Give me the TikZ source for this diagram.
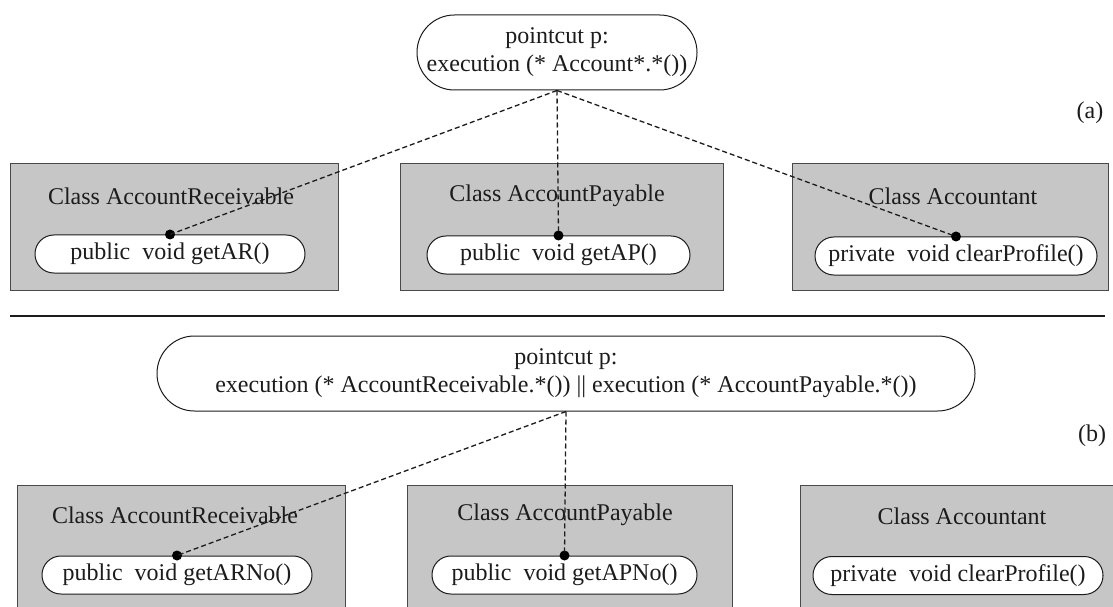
\documentclass[tikz,border=0pt]{standalone}
\usepackage{fontspec}
\setmainfont{Liberation Serif}
\definecolor{boxgray}{RGB}{198,198,198}
\definecolor{inkgray}{RGB}{28,28,28}
\begin{document}
\begin{tikzpicture}[x=1pt,y=1pt,
  font=\fontsize{24}{28}\selectfont,
  every node/.style={text=inkgray},
  classbox/.style n args={2}{draw=inkgray!80, fill=boxgray, line width=1pt,
    minimum width=#1, minimum height=#2, inner sep=0pt},
  methodpill/.style={draw=inkgray, fill=white, line width=1pt,
    rounded corners=18.9pt, minimum width=#1, minimum height=38pt, inner sep=0pt},
  cutpill/.style={draw=inkgray, fill=white, line width=1pt,
    rounded corners=37.4pt, minimum width=#1, minimum height=75pt,
    inner sep=0pt, align=center},
  joinpt/.style={circle, fill=black, inner sep=0pt, minimum size=10pt},
  weave/.style={draw=inkgray, line width=1.3pt, dash pattern=on 5pt off 3pt},
]
\clip (0,0) rectangle (1113,606);
\fill[white] (0,0) rectangle (1113,606);

% ---------- (a) pointcut over all Account* classes ----------
\node[cutpill=280pt] (pa) at (557,553.5) {pointcut p:\\execution (* Account*.*())};
\node (la) at (1090,493) {(a)};

\node[classbox={328pt}{126pt}] (ca1) at (174,379) {};
\node[classbox={323pt}{126pt}] (ca2) at (561.5,379) {};
\node[classbox={316pt}{126pt}] (ca3) at (950,379) {};

\node (ta1) at (171,410) {Class AccountReceivable};
\node (ta2) at (557,410) {Class AccountPayable};
\node (ta3) at (953,410) {Class Accountant};

\node[methodpill=270pt] (ma1) at (170,352) {public\enspace void getAR()};
\node[methodpill=263pt] (ma2) at (558.5,351) {public\enspace void getAP()};
\node[methodpill=282pt] (ma3) at (956,350) {private\enspace void clearProfile()};

\node[joinpt] (da1) at (ma1.north) {};
\node[joinpt] (da2) at (ma2.north) {};
\node[joinpt] (da3) at (ma3.north) {};

\draw[weave] (pa.south) -- (da1.center);
\draw[weave] (pa.south) -- (da2.center);
\draw[weave] (pa.south) -- (da3.center);

% separator
\coordinate (sl) at (10,290);
\coordinate (sr) at (1105,290);
\draw[inkgray, line width=1.1pt] (sl) -- (sr);

% ---------- (b) pointcut over two named classes ----------
\node[cutpill=818pt] (pb) at (566,232.5)
  {pointcut p:\\execution (* AccountReceivable.*()) || execution (* AccountPayable.*())};
\node (lb) at (1092,170) {(b)};

\node[classbox={328pt}{140pt}] (cb1) at (181,51) {};
\node[classbox={325pt}{140pt}] (cb2) at (569.5,51) {};
\node[classbox={320pt}{140pt}] (cb3) at (960,51) {};

\node (tb1) at (175,91) {Class AccountReceivable};
\node (tb2) at (565,91) {Class AccountPayable};
\node (tb3) at (962,90) {Class Accountant};

\node[methodpill=270pt] (mb1) at (177,31) {public\enspace void getARNo()};
\node[methodpill=265pt] (mb2) at (564.5,31) {public\enspace void getAPNo()};
\node[methodpill=290pt] (mb3) at (958,30.5) {private\enspace void clearProfile()};

\node[joinpt] (db1) at (mb1.north) {};
\node[joinpt] (db2) at (mb2.north) {};

\draw[weave] (pb.south) -- (db1.center);
\draw[weave] (pb.south) -- (db2.center);
\end{tikzpicture}
\end{document}
